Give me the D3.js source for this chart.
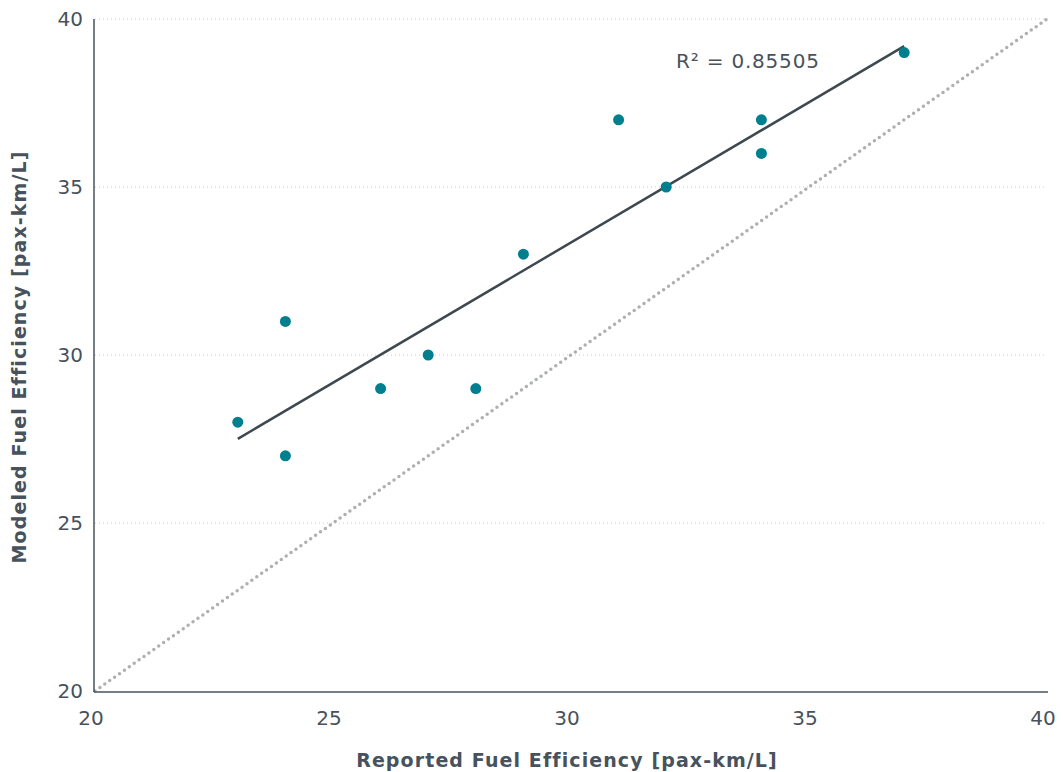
<!DOCTYPE html>
<html>
<head>
<meta charset="utf-8">
<script src="https://cdn.jsdelivr.net/npm/d3@7"></script>
<style>
  body { margin: 0; background: #fff; }
  text { font-family: "DejaVu Sans", sans-serif; fill: #47525c; }
</style>
</head>
<body>
<script>
// chart size and margins
const width = 1063;
const height = 772;
const margin = { top: 19, right: 16, bottom: 81, left: 95 };

// reported vs modeled fuel efficiency [pax-km/L]
const reported = [23, 24, 24, 26, 27, 28, 29, 31, 32, 34, 34, 37];
const modeled  = [28, 31, 27, 29, 30, 29, 33, 37, 35, 37, 36, 39];
const xTicks = [20, 25, 30, 35, 40];
const yTicks = [20, 25, 30, 35, 40];
const rSquaredLabel = "R² = 0.85505";

const svg = d3.select("body").append("svg")
  .attr("width", width)
  .attr("height", height);

const x = d3.scaleLinear().domain([20, 40]).range([margin.left, width - margin.right]);
const y = d3.scaleLinear().domain([20, 40]).range([height - margin.bottom, margin.top]);

// dotted gridlines
svg.append("g")
  .selectAll("line")
  .data(yTicks.filter(d => d > 20))
  .enter().append("line")
  .attr("x1", x(20)).attr("x2", x(40))
  .attr("y1", d => y(d)).attr("y2", d => y(d))
  .attr("stroke", "#c8ccd0")
  .attr("stroke-width", 1)
  .attr("stroke-dasharray", "1,3");

// y = x reference line
svg.append("line")
  .attr("x1", x(20)).attr("y1", y(20))
  .attr("x2", x(40)).attr("y2", y(40))
  .attr("stroke", "#adb0b3")
  .attr("stroke-width", 3.5)
  .attr("stroke-linecap", "round")
  .attr("stroke-dasharray", "0,6");

// axis lines
svg.append("line")
  .attr("x1", x(20) - 1).attr("x2", x(20) - 1)
  .attr("y1", y(40)).attr("y2", y(20) + 1)
  .attr("stroke", "#47525c").attr("stroke-width", 1.5);
svg.append("line")
  .attr("x1", x(20) - 1).attr("x2", x(40) + 1)
  .attr("y1", y(20) + 1).attr("y2", y(20) + 1)
  .attr("stroke", "#47525c").attr("stroke-width", 1.5);

// tick labels
svg.append("g").selectAll("text")
  .data(xTicks)
  .enter().append("text")
  .attr("x", d => x(d) - 4)
  .attr("y", y(20) + 34)
  .attr("text-anchor", "middle")
  .style("font-size", "20px")
  .text(d => d);

svg.append("g").selectAll("text")
  .data(yTicks)
  .enter().append("text")
  .attr("x", x(20) - 12)
  .attr("y", d => y(d) + 7)
  .attr("text-anchor", "end")
  .style("font-size", "20px")
  .text(d => d);

// least squares trend line
const mx = d3.mean(reported), my = d3.mean(modeled);
const sxy = d3.sum(reported, (v, i) => (v - mx) * (modeled[i] - my));
const sxx = d3.sum(reported, v => (v - mx) * (v - mx));
const slope = sxy / sxx;
const intercept = my - slope * mx;
const xr = d3.extent(reported);

svg.append("line")
  .attr("x1", x(xr[0])).attr("y1", y(intercept + slope * xr[0]))
  .attr("x2", x(xr[1])).attr("y2", y(intercept + slope * xr[1]))
  .attr("stroke", "#3d4850")
  .attr("stroke-width", 2.5);

// points
svg.append("g").selectAll("circle")
  .data(reported.map((v, i) => [v, modeled[i]]))
  .enter().append("circle")
  .attr("cx", d => x(d[0]))
  .attr("cy", d => y(d[1]))
  .attr("r", 5.5)
  .attr("fill", "#00808f");

// R squared label
svg.append("text")
  .attr("x", 676)
  .attr("y", 68)
  .style("font-size", "20px")
  .style("letter-spacing", "0.8px")
  .text(rSquaredLabel);

// axis titles
svg.append("text")
  .attr("x", (x(20) + x(40)) / 2 - 4)
  .attr("y", 767)
  .attr("text-anchor", "middle")
  .style("font-size", "19px")
  .style("font-weight", "bold")
  .style("letter-spacing", "1.1px")
  .text("Reported Fuel Efficiency [pax-km/L]");

svg.append("text")
  .attr("transform", `translate(26, ${(y(20) + y(40)) / 2 + 2}) rotate(-90)`)
  .attr("text-anchor", "middle")
  .style("font-size", "19px")
  .style("font-weight", "bold")
  .style("letter-spacing", "1.1px")
  .text("Modeled Fuel Efficiency [pax-km/L]");
</script>
</body>
</html>
